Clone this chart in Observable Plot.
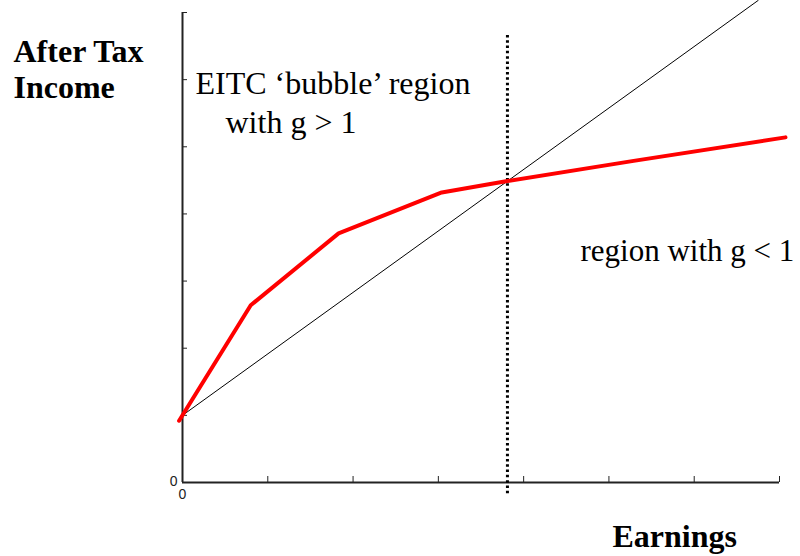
<!DOCTYPE html>
<html>
<head>
<meta charset="utf-8">
<script src="https://cdn.jsdelivr.net/npm/d3@7"></script>
<script src="https://cdn.jsdelivr.net/npm/@observablehq/plot@0.6"></script>
<style>
  html, body { margin: 0; padding: 0; background: #fff; }
  #chart svg { display: block; }
</style>
</head>
<body>
<div id="chart"></div>
<script>
// Budget constraint (red kinked line): earnings vs after-tax income
const earnings = [-0.04, 0.80, 1.83, 3.04, 3.81, 5.29, 7.07];
const afterTax = [0.92, 2.64, 3.71, 4.32, 4.49, 4.79, 5.14];
// Thin reference line
const diagEarnings = [0, 6.75];
const diagIncome = [1, 7.18];
// Vertical dotted cutoff
const cutoffEarnings = 3.81;
const cutoffRange = [-0.16, 6.69];
// Ticks
const xTicks = [1, 2, 3, 4, 5, 6, 7];
const yTicks = [1, 2, 3, 4, 5, 6, 7];
const zeroLabel = ["0"];
const yTitle = "After Tax\nIncome";
const xTitle = "Earnings";
const bubbleLine1 = "EITC \u2018bubble\u2019 region";
const bubbleLine2 = "with g > 1";
const rightLabel = "region with g < 1";

const red = earnings.map((e, i) => ({x: e, y: afterTax[i]}));
const diag = diagEarnings.map((e, i) => ({x: e, y: diagIncome[i]}));
const cutoff = cutoffRange.map(y => ({x: cutoffEarnings, y}));

const serif = "'Liberation Serif', 'Times New Roman', serif";
const sans = "'Liberation Sans', Arial, sans-serif";
const axisColor = "#222";

const plot = Plot.plot({
  width: 800,
  height: 556,
  marginLeft: 182,
  marginRight: 21,
  marginTop: 12,
  marginBottom: 74,
  x: {domain: [0, 7], axis: null},
  y: {domain: [0, 7], axis: null},
  style: {background: "#fff", overflow: "visible"},
  marks: [
    // axes lines
    Plot.ruleY([0], {stroke: axisColor, strokeWidth: 2}),
    Plot.ruleX([0], {stroke: axisColor, strokeWidth: 2}),
    // inward ticks
    Plot.tickX(xTicks, {x: d => d, insetTop: 464, stroke: axisColor, strokeWidth: 1}),
    Plot.tickY(yTicks, {y: d => d, insetRight: 592, stroke: axisColor, strokeWidth: 1}),
    // zero labels
    Plot.text(zeroLabel, {x: 0, y: 0, text: d => d, dx: -5, dy: -1, textAnchor: "end", fontSize: 14, fontFamily: sans, fill: "#222"}),
    Plot.text(zeroLabel, {x: 0, y: 0, text: d => d, dy: 12, textAnchor: "middle", fontSize: 14, fontFamily: sans, fill: "#222"}),
    // dotted cutoff
    Plot.line(cutoff, {x: "x", y: "y", stroke: "#000", strokeWidth: 3, strokeDasharray: "2.5,2.8", strokeLinecap: "butt"}),
    // thin line
    Plot.line(diag, {x: "x", y: "y", stroke: "#000", strokeWidth: 1}),
    // red budget line
    Plot.line(red, {x: "x", y: "y", stroke: "#ff0000", strokeWidth: 4, strokeLinejoin: "round"}),
    // annotations
    Plot.text([yTitle], {frameAnchor: "top-left", text: d => d, dx: -169, dy: 85, lineAnchor: "bottom", lineHeight: 1.12, textAnchor: "start", fontSize: 32, fontWeight: "bold", fontFamily: serif, fill: "#000"}),
    Plot.text([xTitle], {frameAnchor: "top-left", text: d => d, dx: 430, dy: 534, lineAnchor: "bottom", textAnchor: "start", fontSize: 32, fontWeight: "bold", fontFamily: serif, fill: "#000"}),
    Plot.text([bubbleLine1], {frameAnchor: "top-left", text: d => d, dx: 13, dy: 81, lineAnchor: "bottom", textAnchor: "start", fontSize: 32, fontFamily: serif, fill: "#000"}),
    Plot.text([bubbleLine2], {frameAnchor: "top-left", text: d => d, dx: 43, dy: 120, lineAnchor: "bottom", textAnchor: "start", fontSize: 32, fontFamily: serif, fill: "#000"}),
    Plot.text([rightLabel], {frameAnchor: "top-left", text: d => d, dx: 398, dy: 248, lineAnchor: "bottom", textAnchor: "start", fontSize: 31, fontFamily: serif, fill: "#000"})
  ]
});
document.getElementById("chart").appendChild(plot);
</script>
</body>
</html>
